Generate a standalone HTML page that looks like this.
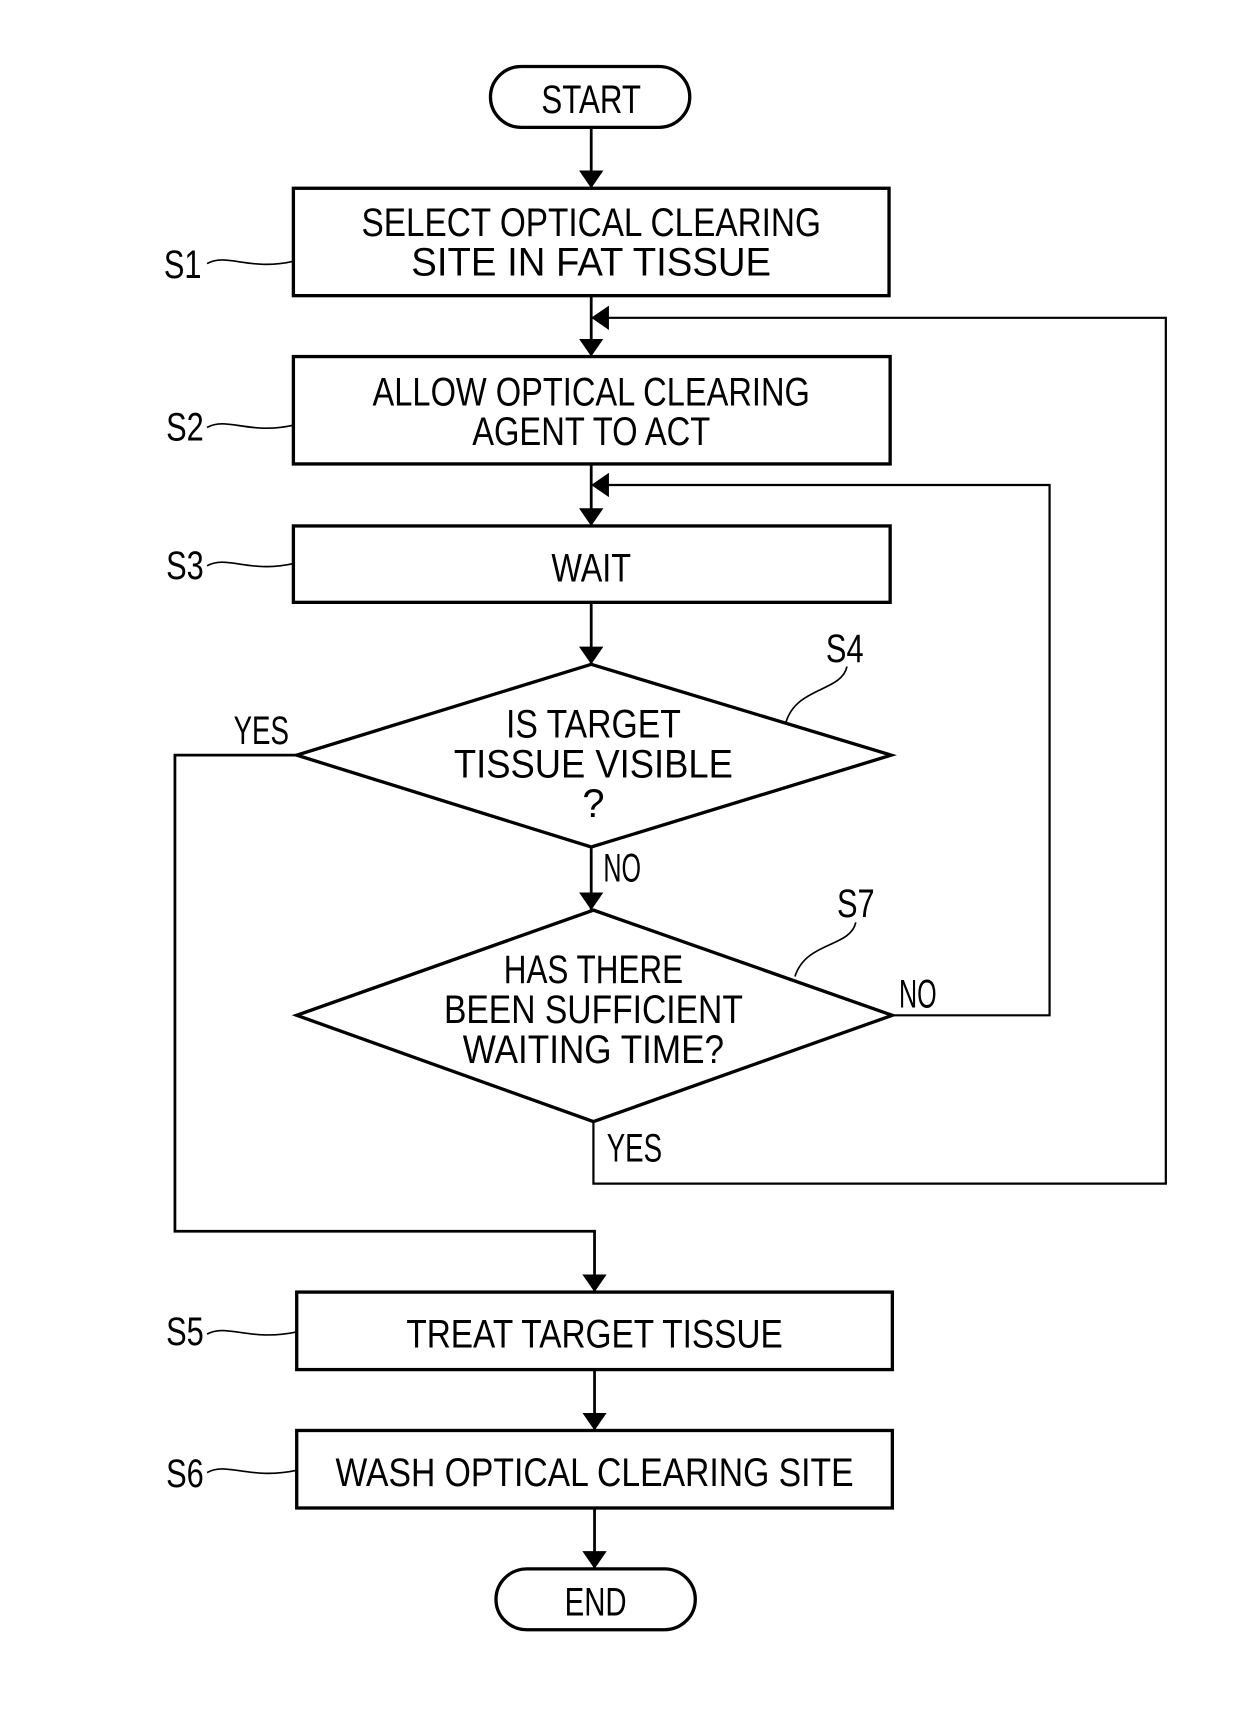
<!DOCTYPE html>
<html><head><meta charset="utf-8"><style>
html,body{margin:0;padding:0;background:#fff;}
svg{display:block;}
text{font-family:"Liberation Sans",sans-serif;font-size:36px;fill:#000;text-anchor:middle;}
</style></head><body>
<svg width="1240" height="1735" viewBox="0 0 1120 1567" xmlns="http://www.w3.org/2000/svg">
<defs><marker id="a" markerWidth="10" markerHeight="10" refX="9" refY="5" orient="auto" markerUnits="userSpaceOnUse" viewBox="0 0 10 10"><path d="M0,0 L10,5 L0,10 z" fill="#000"/></marker>
<marker id="b" markerWidth="16" markerHeight="22" refX="16" refY="11" orient="auto" markerUnits="userSpaceOnUse"><path d="M0,0 L16,11 L0,22 z" fill="#000"/></marker></defs>
<g fill="none" stroke="#000" stroke-width="3">
<rect x="443" y="60" width="180" height="55" rx="28"/>
<rect x="265" y="170" width="538" height="97"/>
<rect x="265" y="322" width="539" height="97"/>
<rect x="265" y="475" width="539" height="69"/>
<polygon points="534,600 805,682 534,765 268,682"/>
<polygon points="536,822 806,917 536,1013 268,917"/>
<rect x="268" y="1167" width="538" height="70"/>
<rect x="268" y="1292" width="538" height="70"/>
<rect x="448" y="1417" width="180" height="55" rx="28"/>
</g>
<g fill="none" stroke="#000" stroke-width="2.5">
<line x1="534" y1="115" x2="534" y2="170" marker-end="url(#b)"/>
<line x1="534" y1="267" x2="534" y2="322" marker-end="url(#b)"/>
<line x1="534" y1="419" x2="534" y2="475" marker-end="url(#b)"/>
<line x1="534" y1="544" x2="534" y2="600" marker-end="url(#b)"/>
<line x1="534" y1="765" x2="534" y2="822" marker-end="url(#b)"/>
<polyline points="268,682 158,682 158,1112 537,1112 537,1167" marker-end="url(#b)"/>
<polyline points="806,917 948,917 948,438 534,438" stroke-width="2" marker-end="url(#b)"/>
<polyline points="536,1013 536,1069 1053,1069 1053,287 534,287" stroke-width="2" marker-end="url(#b)"/>
<line x1="537" y1="1237" x2="537" y2="1292" marker-end="url(#b)"/>
<line x1="537" y1="1362" x2="537" y2="1417" marker-end="url(#b)"/>
<path d="M187,238 C205,228 225,245 265,236" stroke-width="1.5"/>
<path d="M187,386 C205,376 225,393 265,384" stroke-width="1.5"/>
<path d="M187,511 C205,501 225,518 265,509" stroke-width="1.5"/>
<path d="M187,1205 C205,1195 225,1212 268,1203" stroke-width="1.5"/>
<path d="M187,1330 C205,1320 225,1337 268,1328" stroke-width="1.5"/>
<path d="M765,602 C760,625 720,620 710,652" stroke-width="1.5"/>
<path d="M773,833 C768,856 728,850 718,882" stroke-width="1.5"/>
</g>
<text x="534" y="102" textLength="90" lengthAdjust="spacingAndGlyphs">START</text>
<text x="534" y="213" textLength="415" lengthAdjust="spacingAndGlyphs">SELECT OPTICAL CLEARING</text>
<text x="534" y="249" textLength="325" lengthAdjust="spacingAndGlyphs">SITE IN FAT TISSUE</text>
<text x="534" y="366" textLength="395" lengthAdjust="spacingAndGlyphs">ALLOW OPTICAL CLEARING</text>
<text x="534" y="402" textLength="215" lengthAdjust="spacingAndGlyphs">AGENT TO ACT</text>
<text x="534" y="525" textLength="72" lengthAdjust="spacingAndGlyphs">WAIT</text>
<text x="536" y="666" textLength="158" lengthAdjust="spacingAndGlyphs">IS TARGET</text>
<text x="536" y="702" textLength="252" lengthAdjust="spacingAndGlyphs">TISSUE VISIBLE</text>
<text x="536" y="738">?</text>
<text x="536" y="888" textLength="162" lengthAdjust="spacingAndGlyphs">HAS THERE</text>
<text x="536" y="924" textLength="270" lengthAdjust="spacingAndGlyphs">BEEN SUFFICIENT</text>
<text x="536" y="960" textLength="236" lengthAdjust="spacingAndGlyphs">WAITING TIME?</text>
<text x="537" y="1217" textLength="340" lengthAdjust="spacingAndGlyphs">TREAT TARGET TISSUE</text>
<text x="537" y="1342" textLength="468" lengthAdjust="spacingAndGlyphs">WASH OPTICAL CLEARING SITE</text>
<text x="538" y="1459" textLength="56" lengthAdjust="spacingAndGlyphs">END</text>
<text x="165" y="251" textLength="34" lengthAdjust="spacingAndGlyphs">S1</text>
<text x="167" y="398" textLength="34" lengthAdjust="spacingAndGlyphs">S2</text>
<text x="167" y="523" textLength="34" lengthAdjust="spacingAndGlyphs">S3</text>
<text x="763" y="598" textLength="34" lengthAdjust="spacingAndGlyphs">S4</text>
<text x="773" y="828" textLength="34" lengthAdjust="spacingAndGlyphs">S7</text>
<text x="167" y="1215" textLength="34" lengthAdjust="spacingAndGlyphs">S5</text>
<text x="167" y="1343" textLength="34" lengthAdjust="spacingAndGlyphs">S6</text>
<text x="236" y="672" textLength="50" lengthAdjust="spacingAndGlyphs">YES</text>
<text x="562" y="796" textLength="34" lengthAdjust="spacingAndGlyphs">NO</text>
<text x="829" y="910" textLength="34" lengthAdjust="spacingAndGlyphs">NO</text>
<text x="573" y="1049" textLength="50" lengthAdjust="spacingAndGlyphs">YES</text>
</svg>
</body></html>
